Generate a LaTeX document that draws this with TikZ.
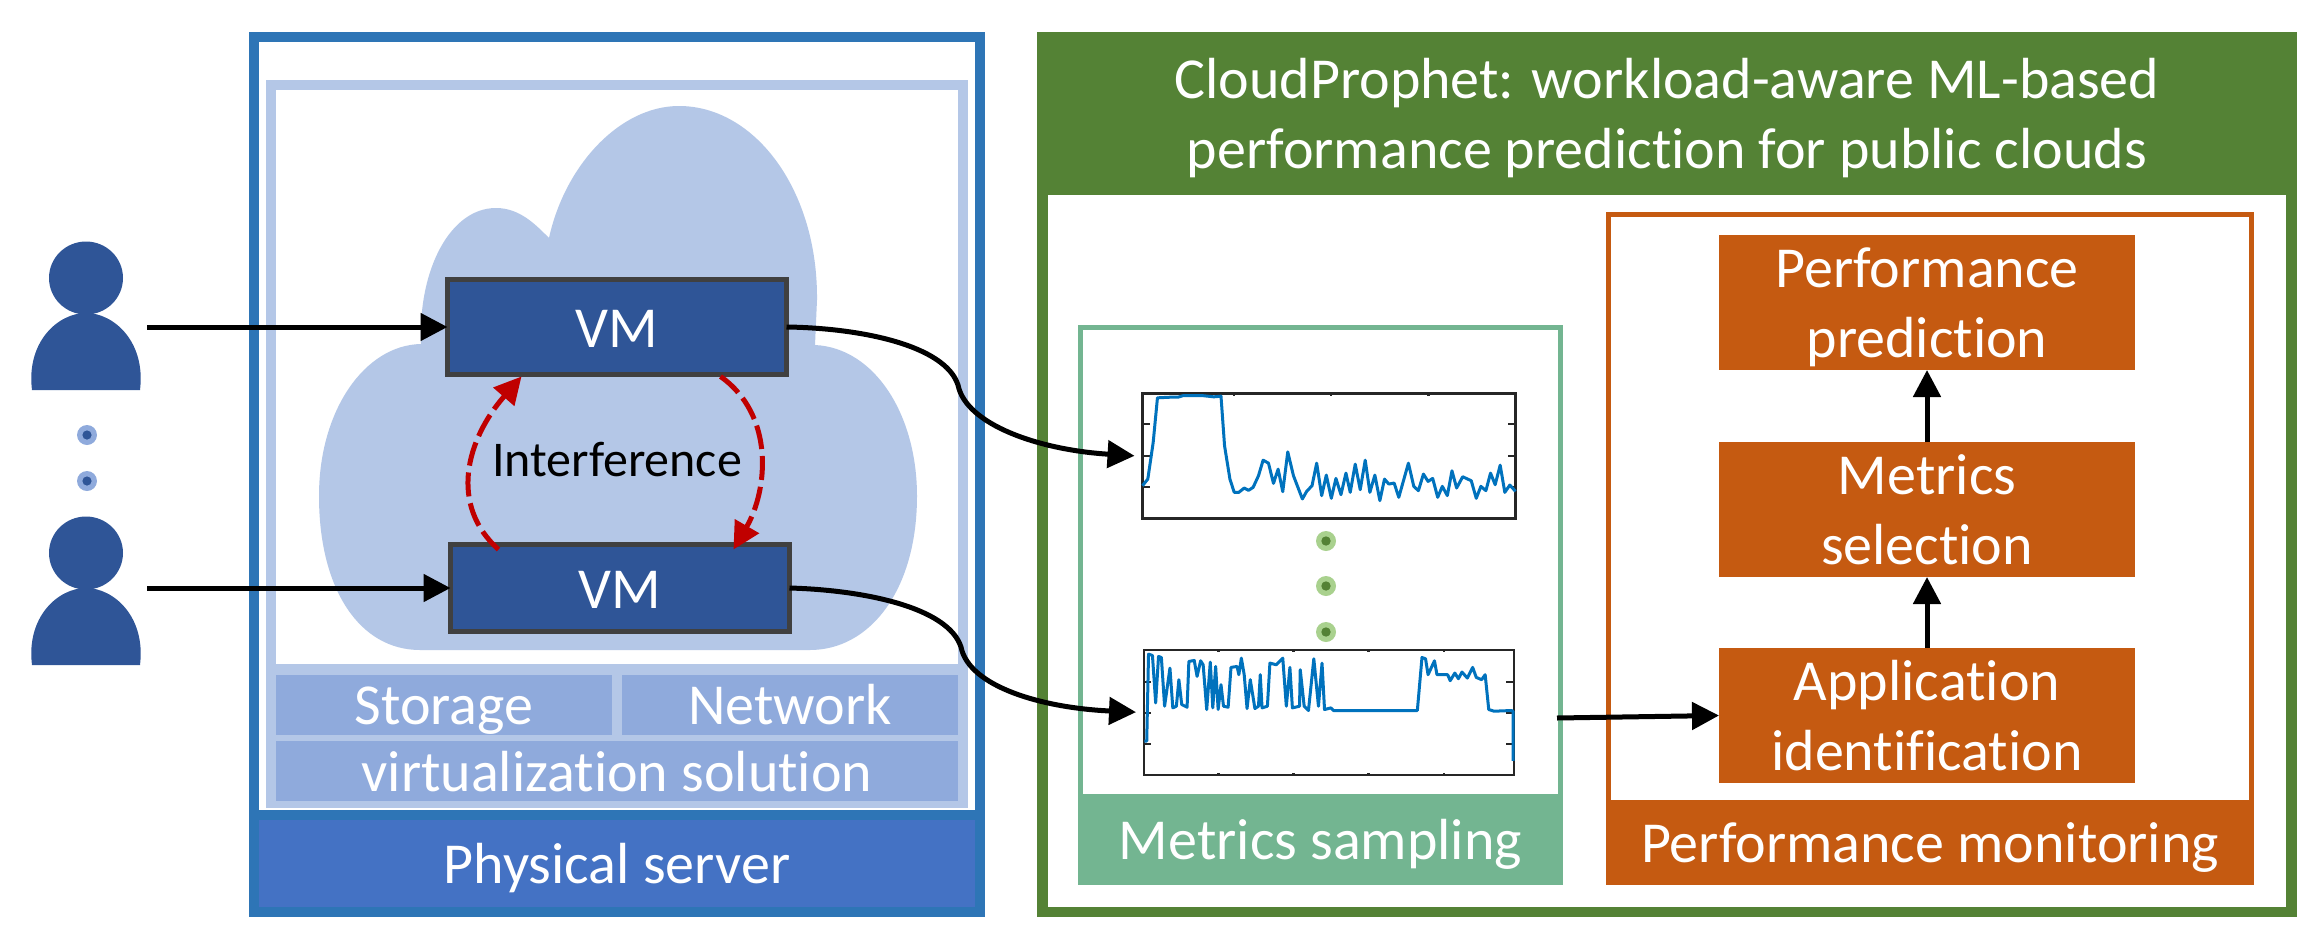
\documentclass[tikz,border=0pt]{standalone}
\usepackage{fontspec}
\setmainfont[Ligatures=NoCommon,Contextuals=NoAlternate]{Carlito}
\usetikzlibrary{arrows.meta,calc}
\definecolor{bluefr}{HTML}{2E75B6}
\definecolor{bluefill}{HTML}{4472C4}
\definecolor{lightb}{HTML}{B4C7E7}
\definecolor{midb}{HTML}{8FAADC}
\definecolor{darkb}{HTML}{2F5597}
\definecolor{vmline}{HTML}{404040}
\definecolor{greenfr}{HTML}{548235}
\definecolor{greenlt}{HTML}{A9D18E}
\definecolor{teal}{HTML}{73B591}
\definecolor{orangeb}{HTML}{C55A11}
\definecolor{redc}{HTML}{C00000}
\definecolor{plotb}{HTML}{0072BD}
\definecolor{axisc}{HTML}{262626}
\newcommand{\topst}{\rule{0pt}{51pt}}
\newcommand{\botst}{\rule[-12pt]{0pt}{12pt}}
\tikzset{
  box/.style={rectangle,inner sep=0pt,outer sep=0pt,align=center,text=white,font=\fontsize{58}{70}\selectfont},
  oneline/.style={box,text height=50pt,text depth=10pt},
  frame/.style={box,draw=#1,line width=5pt,fill=white},
  lightbar/.style={oneline,fill=midb},
  vmbox/.style={oneline,fill=darkb,draw=vmline,line width=5.5pt},
  orangebox/.style={box,fill=orangeb},
  conn/.style={draw=black,line width=5pt,-{Triangle[length=27pt,width=27pt]}},
  interf/.style={draw=redc,line width=5pt,dash pattern=on 24pt off 7pt,-{Triangle[length=27pt,width=27pt]}},
  curvy/.style={conn},
  axisframe/.style={rectangle,inner sep=0pt,outer sep=0pt,draw=axisc,line width=2.8pt},
  tick/.style={draw=axisc,line width=2.2pt},
  series/.style={draw=plotb,line width=3pt,line join=round},
  persona/.style={fill=darkb,draw=none},
}
\newcommand{\personshape}[1]{%
  \fill[persona] (86,#1-49) ellipse [x radius=37,y radius=36.5];
  \fill[persona] (32,#1+63) .. controls (26,#1+15) and (58,#1-14) .. (86,#1-14) .. controls (114,#1-14) and (146,#1+15) .. (140,#1+63) -- cycle;
}
\begin{document}
\begin{tikzpicture}[x=1pt,y=-1pt]
\useasboundingbox (0,0) rectangle (2322,948);
% --- physical server
\node[box,draw=bluefr,line width=10pt,fill=white,minimum width=726pt,minimum height=875pt] (server) at (617,474.5) {};
\node[box,fill=white,draw=lightb,line width=10.5pt,minimum width=692pt,minimum height=718pt] (vmhost) at (617,444) {};
\fill[lightb] (266,664) rectangle (968,807);
\node[oneline,draw=bluefr,fill=bluefill,line width=10pt,minimum width=726pt,minimum height=97pt] (physical) at (617,863.5) {Physical server};
\node[lightbar,minimum width=336pt,minimum height=57pt] (storage) at (444,704.5) {Storage};
\node[lightbar,minimum width=336pt,minimum height=57pt] (network) at (790,704.5) {Network};
\node[lightbar,minimum width=682pt,minimum height=56pt] (virt) at (617,771) {virtualization solution};
% cloud
\fill[lightb] (420,650) .. controls (360,650) and (319,590) .. (319,496)
  .. controls (319,410) and (365,345) .. (421,344)
  .. controls (418,270) and (450,208) .. (496,208)
  .. controls (520,208) and (536,225) .. (549,238)
  .. controls (565,165) and (620,106) .. (679,106)
  .. controls (755,106) and (818,190) .. (817,300)
  -- (815,345) .. controls (875,348) and (917,415) .. (917,496)
  .. controls (917,590) and (870,650) .. (810,650) -- cycle;
% VMs
\node[vmbox,minimum width=339pt,minimum height=95pt] (vm1) at (617,327) {VM};
\node[vmbox,minimum width=339pt,minimum height=87pt] (vm2) at (620,588) {VM};
\node[box,text=black,font=\fontsize{50}{60}\selectfont,text height=40pt,text depth=10pt] (interf) at (617,461) {Interference};
\draw[interf] ($(vm2.north west)+(48,5)$) .. controls (449,505) and (466,440) .. ($(vm1.south west)+(74,2)$);
\draw[interf] ($(vm1.south west)+(273,2)$) .. controls (775,415) and (768,490) .. ($(vm2.north west)+(283,5)$);
% users
\personshape{327}
\personshape{602}
\foreach \yy in {435,481}{
  \fill[midb] (87,\yy) circle (10);
  \fill[darkb] (87,\yy) circle (4.6);
}
\coordinate (u1) at (147,327);
\coordinate (u2) at (147,588);
\draw[conn] (u1) -- (vm1.west);
\draw[conn] (u2) -- (vm2.west);
% --- cloudprophet
\node[box,draw=greenfr,line width=10.5pt,fill=white,minimum width=1249pt,minimum height=875pt] (cp) at (1667,474.5) {};
\node[box,fill=greenfr,minimum width=1260pt,minimum height=163pt] (title) at (1667,113.5) {\topst CloudProphet: workload-aware ML-based\\performance prediction for public clouds\botst};
% metrics sampling
\node[frame=teal,minimum width=480pt,minimum height=555pt] (sampling) at (1320.5,605) {};
\node[oneline,fill=teal,minimum width=485pt,minimum height=91pt] (samplabel) at (1320.5,839.5) {Metrics sampling};
% charts
\node[axisframe,fill=white,minimum width=373pt,minimum height=125pt] (chart1) at (1329,456.3) {};
\node[axisframe,fill=white,minimum width=370pt,minimum height=125pt] (chart2) at (1329,712.5) {};
\begin{scope}[shift={(1030pt,-300pt)},x=0.357pt,y=-0.3316pt]
  \foreach \xx in {572,844,1116}{
    \draw[tick] (\xx,284) -- (\xx,290);
    \draw[tick] (\xx,659) -- (\xx,653);
  }
  \foreach \yy in {374,470,564}{
    \draw[tick] (316,\yy) -- (336,\yy);
    \draw[tick] (1360,\yy) -- (1340,\yy);
  }
  \foreach \xx in {528,738,948,1160}{
    \draw[tick] (\xx,1056) -- (\xx,1062);
    \draw[tick] (\xx,1432) -- (\xx,1426);
  }
  \foreach \yy in {1152,1245,1340}{
    \draw[tick] (320,\yy) -- (340,\yy);
    \draw[tick] (1354,\yy) -- (1334,\yy);
  }
  \draw[series] (315,560)--(330,540)--(345,430)--(357,295)--(395,293)--(415,293)--(430,288)--(480,288)--(515,292)--(535,290)--(545,440)--(560,540)--(572,580)--(585,580)--(600,567)--(612,574)--(625,565)--(640,530)--(653,483)--(668,492)--(682,553)--(695,510)--(708,578)--(722,458)--(738,530)--(763,600)--(775,577)--(790,560)--(803,492)--(817,590)--(830,528)--(844,598)--(857,538)--(871,587)--(885,522)--(897,580)--(911,495)--(925,572)--(939,483)--(952,580)--(966,528)--(980,605)--(993,540)--(1005,555)--(1020,552)--(1033,595)--(1060,492)--(1075,562)--(1088,575)--(1102,525)--(1115,547)--(1128,538)--(1142,595)--(1155,562)--(1169,590)--(1182,515)--(1195,567)--(1212,533)--(1236,545)--(1250,598)--(1263,562)--(1277,575)--(1290,522)--(1303,557)--(1317,498)--(1330,580)--(1344,558)--(1360,577);
  \draw[series] (320,1330)--(327,1330)--(332,1068)--(343,1072)--(352,1215)--(360,1075)--(368,1078)--(377,1225)--(392,1110)--(400,1230)--(410,1225)--(417,1145)--(425,1220)--(440,1228)--(445,1090)--(460,1087)--(468,1135)--(478,1088)--(485,1100)--(495,1235)--(505,1092)--(512,1230)--(520,1105)--(527,1235)--(535,1160)--(542,1225)--(555,1228)--(563,1108)--(580,1105)--(585,1130)--(592,1080)--(600,1130)--(608,1232)--(617,1145)--(630,1232)--(640,1225)--(645,1130)--(650,1230)--(665,1225)--(672,1095)--(690,1100)--(708,1080)--(718,1225)--(728,1108)--(735,1230)--(755,1225)--(757,1115)--(768,1225)--(780,1238)--(795,1082)--(808,1225)--(818,1095)--(825,1235)--(843,1230)--(850,1238)--(1085,1238)--(1098,1078)--(1108,1082)--(1115,1130)--(1133,1088)--(1140,1130)--(1170,1130)--(1177,1148)--(1190,1125)--(1200,1142)--(1210,1122)--(1225,1140)--(1240,1108)--(1250,1138)--(1265,1145)--(1275,1130)--(1285,1235)--(1300,1240)--(1348,1238)--(1353,1240)--(1353,1390);
\end{scope}
\foreach \yy in {541,586,632}{
  \fill[greenlt] (1326,\yy) circle (10);
  \fill[greenfr] (1326,\yy) circle (4.7);
}
% performance monitoring
\node[frame=orangeb,minimum width=643pt,minimum height=668pt] (monitor) at (1930,548.5) {};
\node[oneline,fill=orangeb,minimum width=648pt,minimum height=85pt] (monlabel) at (1930,842.5) {Performance monitoring};
\node[orangebox,minimum width=416pt,minimum height=135pt] (pred) at (1927,302.5) {\topst Performance\\prediction\botst};
\node[orangebox,minimum width=416pt,minimum height=135pt] (select) at (1927,509.5) {\topst Metrics\\selection\botst};
\node[orangebox,minimum width=416pt,minimum height=135pt] (app) at (1927,715.5) {\topst Application\\identification\botst};
\draw[conn] (app.north) -- (select.south);
\draw[conn] (select.north) -- (pred.south);
\coordinate (chartout) at (1557,718);
\draw[conn] (chartout) -- (app.west);
% cross connectors
\draw[curvy,shorten >=8pt] (vm1.east) .. controls (860,328) and (945,345) .. (958,385)
  .. controls (966,425) and (1040,450) .. (chart1.west);
\draw[curvy,shorten >=8pt] (vm2.east) .. controls (863,590) and (948,607) .. (961,647)
  .. controls (969,687) and (1043,708) .. (chart2.west);
\end{tikzpicture}
\end{document}
